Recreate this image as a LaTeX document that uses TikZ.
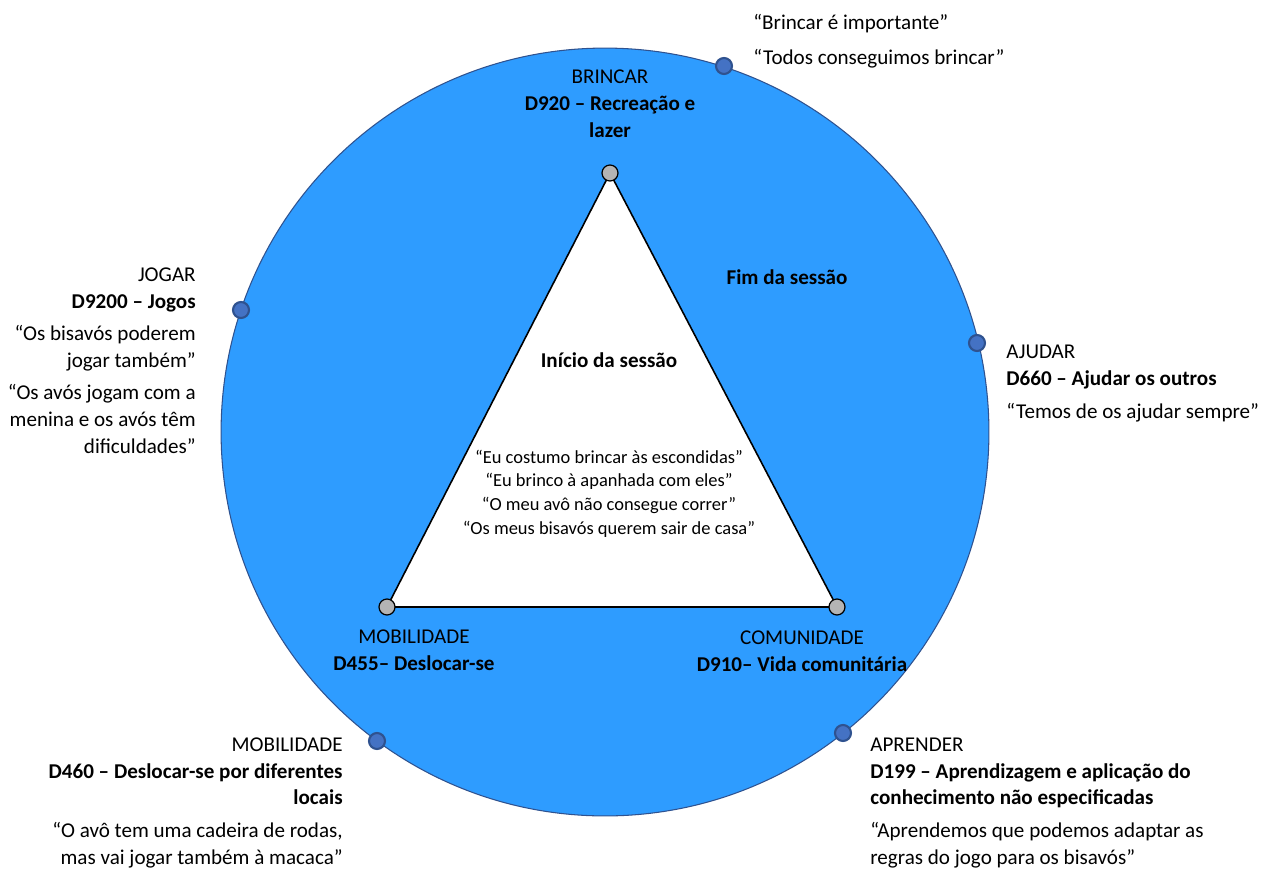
\documentclass[tikz,border=0pt]{standalone}
\usepackage{fontspec}
\setmainfont{Carlito}
\usetikzlibrary{positioning}
\definecolor{discblue}{RGB}{46,156,255}
\definecolor{discedge}{RGB}{47,82,143}
\definecolor{pinfill}{RGB}{68,114,196}
\definecolor{vtxgray}{RGB}{180,180,180}
\tikzset{
  disc/.style={draw=discedge,line width=0.6pt,fill=discblue},
  tri/.style={draw=black,line width=0.9pt,fill=white},
  vtx/.style={circle,draw=black,line width=0.7pt,fill=vtxgray,minimum size=0.32cm,inner sep=0pt},
  pin/.style={circle,draw=discedge,line width=1.2pt,fill=pinfill,minimum size=0.32cm,inner sep=0pt},
  lbl/.style={inner sep=0pt,font=\fontsize{12}{15.1}\selectfont},
  head/.style={inner sep=0pt,font=\fontsize{12}{15.1}\selectfont\bfseries},
  falas/.style={inner sep=0pt,align=center,font=\fontsize{10.5}{13.4}\selectfont}
}
\newcommand{\qgap}{\\[3.4pt]}

\begin{document}
\begin{tikzpicture}[x=0.02cm,y=-0.02cm]
\useasboundingbox (0,0) rectangle (1270,869);
% disco e triangulo
\coordinate (ctr) at (605,432);
\draw[disc] (ctr) circle[radius=7.68cm];
\coordinate (a) at (610,173);
\coordinate (b) at (387,607);
\coordinate (c) at (837,607);
\draw[tri] (a) -- (b) -- (c) -- cycle;
\node[vtx] (topo) at (a) {};
\node[vtx] (esq) at (b) {};
\node[vtx] (dir) at (c) {};
% marcadores no circulo
\node[pin] (pbrincar) at (724,66) {};
\node[pin] (pjogar) at (241,310) {};
\node[pin] (pajudar) at (977,343) {};
\node[pin] (pmobil) at (377,741) {};
\node[pin] (paprender) at (843,733) {};
% textos (base = ultima linha)
\node[lbl,anchor=base west,align=left] (qbrincar) at (753,64)
  {“Brincar é importante”\\[4.5pt]“Todos conseguimos brincar”};
\node[lbl,anchor=base,align=center] (brincar) at (610,137)
  {BRINCAR\\\textbf{D920 – Recreação e}\\\textbf{lazer}};
\node[head] (fim) at (787,277) {Fim da sessão};
\node[lbl,anchor=base east,align=right] (jogar) at (196,453)
  {JOGAR\\\textbf{D9200 – Jogos}\qgap “Os bisavós poderem\\jogar também”\qgap
   “Os avós jogam com a\\menina e os avós têm\\dificuldades”};
\node[lbl,anchor=base west,align=left] (ajudar) at (1006,418)
  {AJUDAR\\\textbf{D660 – Ajudar os outros}\qgap “Temos de os ajudar sempre”};
\node[head] (inicio) at (609,360) {Início da sessão};
\node[falas,anchor=base] (falas) at (609,534)
  {“Eu costumo brincar às escondidas”\\“Eu brinco à apanhada com eles”\\
   “O meu avô não consegue correr”\\“Os meus bisavós querem sair de casa”};
\node[lbl,anchor=base,align=center] (mobil) at (414,670)
  {MOBILIDADE\\\textbf{D455– Deslocar-se}};
\node[lbl,anchor=base,align=center] (comun) at (802,671)
  {COMUNIDADE\\\textbf{D910– Vida comunitária}};
\node[lbl,anchor=base east,align=right] (deslocar) at (343,864)
  {MOBILIDADE\\\textbf{D460 – Deslocar-se por diferentes}\\\textbf{locais}\qgap
   “O avô tem uma cadeira de rodas,\\mas vai jogar também à macaca”};
\node[lbl,anchor=base west,align=left] (aprender) at (870,864)
  {APRENDER\\\textbf{D199 – Aprendizagem e aplicação do}\\\textbf{conhecimento não especificadas}\qgap
   “Aprendemos que podemos adaptar as\\regras do jogo para os bisavós”};
\end{tikzpicture}
\end{document}
